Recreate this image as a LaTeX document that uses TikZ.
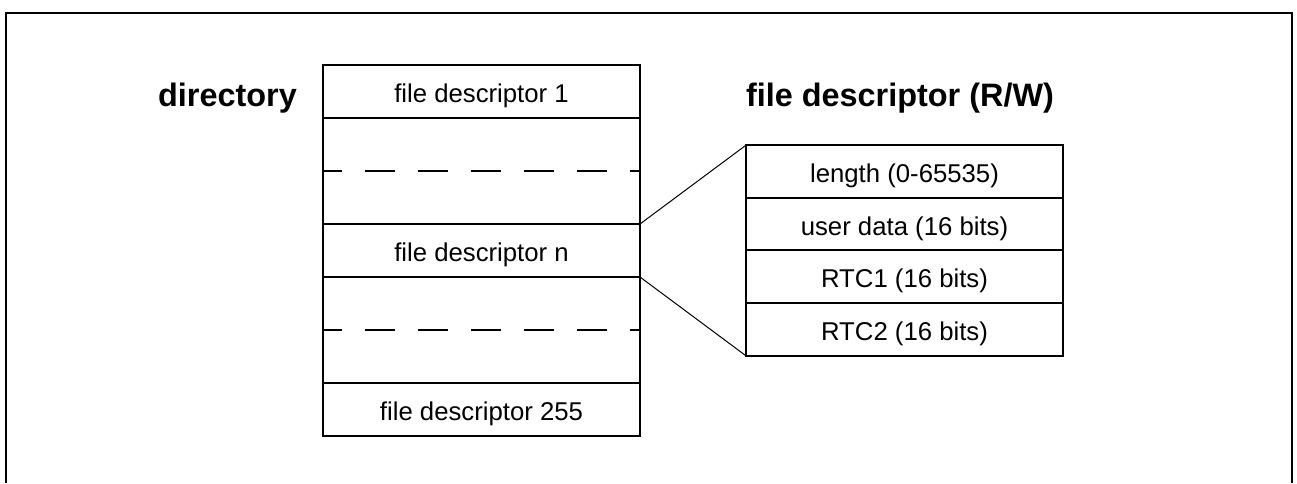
\documentclass[tikz,border=0pt]{standalone}
\usepackage{fontspec}
\setmainfont{Liberation Sans}

\tikzset{
  cell/.style={draw, line width=1.5pt, minimum width=237.75pt, minimum height=39.75pt,
    inner sep=0pt, outer sep=0pt, font=\fontsize{19.3}{23}\selectfont,
    text height=16.5pt, text depth=0pt},
  gapcell/.style={cell, minimum height=79.5pt},
  fdcell/.style={cell, minimum height=39.5pt},
  title/.style={font=\fontsize{24.3}{29}\selectfont\bfseries, inner sep=0pt, anchor=base},
  gapline/.style={line width=1.5pt, dash pattern=on 22.5pt off 17.25pt, dash phase=8.5pt},
}

\begin{document}
\begin{tikzpicture}[x=0.75pt,y=-0.75pt]

\useasboundingbox (0,0) rectangle (1297,483);
\draw[line width=1.5pt] (6,483) -- (6,13) -- (1292,13) -- (1292,483);

\draw (227.5,106.5) node[title] (dirtitle) {directory};
\draw (900,106.5) node[title] (fdtitle) {file descriptor (R/W)};

\draw (481.5,91.5) node[cell] (fd1) {file descriptor 1};
\draw (481.5,171) node[gapcell] (gap1) {};
\draw (481.5,250.5) node[cell] (fdn) {file descriptor n};
\draw (481.5,330) node[gapcell] (gap2) {};
\draw (481.5,409.5) node[cell] (fd255) {file descriptor 255};

\draw[gapline] (gap1.west) -- (gap1.east);
\draw[gapline] (gap2.west) -- (gap2.east);

\draw (904.5,171.5) node[fdcell] (len) {length (0-65535)};
\draw (904.5,224) node[fdcell] (udata) {user data (16 bits)};
\draw (904.5,276.5) node[fdcell] (rtc1) {RTC1 (16 bits)};
\draw (904.5,329.5) node[fdcell] (rtc2) {RTC2 (16 bits)};

\draw[line width=0.75pt] (fdn.north east) -- (len.north west);
\draw[line width=0.75pt] (fdn.south east) -- (rtc2.south west);

\end{tikzpicture}
\end{document}
